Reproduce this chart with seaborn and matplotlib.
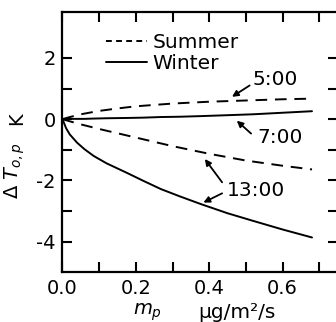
import matplotlib
matplotlib.use("Agg")
import matplotlib.pyplot as plt
from matplotlib.lines import Line2D
import seaborn as sns
import pandas as pd

# Particle mass flux (ug/m^2/s) and resulting change of surface temperature (K)
m_summer = [0.0, 0.02, 0.05, 0.1, 0.15, 0.2, 0.3, 0.4, 0.5, 0.6, 0.68]
summer_0500 = [0.0, 0.07, 0.16, 0.27, 0.35, 0.42, 0.51, 0.57, 0.61, 0.65, 0.67]
summer_1300 = [0.0, -0.07, -0.17, -0.32, -0.46, -0.60, -0.88, -1.13, -1.35, -1.52, -1.64]

m_winter = [0.0, 0.01, 0.02, 0.04, 0.06, 0.085, 0.12, 0.177, 0.22, 0.268,
            0.32, 0.377, 0.45, 0.52, 0.6, 0.68]
winter_0700 = [0.0, 0.0, 0.01, 0.01, 0.01, 0.02, 0.03, 0.04, 0.05, 0.07,
               0.08, 0.10, 0.13, 0.16, 0.21, 0.26]
winter_1300 = [0.0, -0.30, -0.50, -0.77, -0.98, -1.20, -1.44, -1.76, -2.01,
               -2.28, -2.52, -2.77, -3.07, -3.32, -3.60, -3.86]

x_ticks = [0.0, 0.2, 0.4, 0.6]
x_tick_labels = ["0.0", "0.2", "0.4", "0.6"]
y_ticks = [2, 0, -2, -4]
y_tick_labels = ["2", "0", "-2", "-4"]

sns.set_style("ticks")
plt.rcParams["font.family"] = ["DejaVu Sans"]
plt.rcParams["mathtext.fontset"] = "dejavusans"
plt.rcParams["text.color"] = "black"
plt.rcParams["axes.labelcolor"] = "black"
plt.rcParams["xtick.color"] = "black"
plt.rcParams["ytick.color"] = "black"

fig = plt.figure(figsize=(3.36, 3.22), dpi=100)
ax = fig.add_axes([0.186, 0.154, 0.819, 0.809])

df = pd.concat([
    pd.DataFrame({"m": m_summer, "dT": summer_0500, "curve": "s5"}),
    pd.DataFrame({"m": m_summer, "dT": summer_1300, "curve": "s13"}),
    pd.DataFrame({"m": m_winter, "dT": winter_0700, "curve": "w7"}),
    pd.DataFrame({"m": m_winter, "dT": winter_1300, "curve": "w13"}),
], ignore_index=True)

for key, dashed in [("s5", True), ("s13", True), ("w7", False), ("w13", False)]:
    sub = df[df["curve"] == key]
    line_kw = dict(color="black", linewidth=1.4)
    if dashed:
        line_kw["dashes"] = (6, 4)
    sns.lineplot(data=sub, x="m", y="dT", ax=ax, estimator=None,
                 sort=False, legend=False, **line_kw)

ax.set_xlim(0, 0.75)
ax.set_ylim(-5, 3.5)
ax.set_xlabel("")
ax.set_ylabel("")

ax.set_xticks(x_ticks)
ax.set_xticklabels(x_tick_labels)
ax.set_xticks([0.1, 0.3, 0.5, 0.7], minor=True)
ax.set_yticks(y_ticks)
ax.set_yticklabels(y_tick_labels)
ax.set_yticks([1, -1, -3], minor=True)

for s in ax.spines.values():
    s.set_visible(True)
    s.set_linewidth(1.6)
    s.set_color("black")

ax.tick_params(which="both", direction="in", length=7, width=1.5,
               top=True, right=True, labelsize=14, pad=5,
               colors="black", labelcolor="black")

# Legend
handles = [Line2D([], [], color="black", lw=1.4, dashes=(3, 2.2)),
           Line2D([], [], color="black", lw=1.4)]
leg = ax.legend(handles, ["Summer", "Winter"], loc="upper left",
                bbox_to_anchor=(0.13, 0.95), frameon=False, fontsize=14.5,
                handlelength=2.0, handletextpad=0.3, labelspacing=0.1,
                borderaxespad=0, labelcolor="black")

# Curve annotations
arrow = dict(arrowstyle="-|>", color="black", lw=1.3, mutation_scale=9,
             shrinkA=0, shrinkB=0)
ax.text(0.517, 1.3, "5:00", fontsize=14.5, ha="left", va="center", color="black")
ax.annotate("", xy=(0.462, 0.73), xytext=(0.51, 1.1), arrowprops=arrow)

ax.text(0.53, -0.59, "7:00", fontsize=14.5, ha="left", va="center", color="black")
ax.annotate("", xy=(0.475, -0.05), xytext=(0.514, -0.47), arrowprops=arrow)

ax.text(0.448, -2.33, "13:00", fontsize=14.5, ha="left", va="center", color="black")
ax.annotate("", xy=(0.388, -1.30), xytext=(0.435, -2.06), arrowprops=arrow)
ax.annotate("", xy=(0.384, -2.72), xytext=(0.435, -2.42), arrowprops=arrow)

# Axis labels
fig.text(0.045, 0.47, r"$\Delta\ T_{o,p}$", rotation=90, fontsize=14,
         ha="center", va="center", color="black")
fig.text(0.05, 0.63, "K", rotation=90, fontsize=14,
         ha="center", va="center", color="black")
fig.text(0.44, 0.03, r"$m_p$", fontsize=14, ha="center", va="center",
         color="black")
fig.text(0.705, 0.03, "μg/m²/s", fontsize=14.5, ha="center", va="center",
         color="black")

fig.savefig("out.png", dpi=100)
